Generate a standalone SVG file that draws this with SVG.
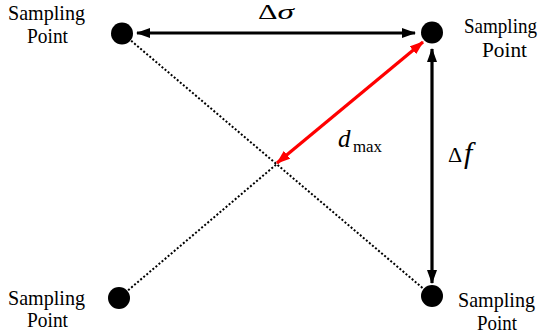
<svg xmlns="http://www.w3.org/2000/svg" width="543" height="334" viewBox="0 0 543 334">
<defs>
<style>
text{font-family:"Liberation Serif","Times New Roman",serif;fill:#000}
.lbl{font-size:21px}
.dot{fill:#000}
.dotted{stroke:#000;stroke-width:2;stroke-dasharray:2 2;fill:none}
.blk{stroke:#000;stroke-width:3.2;fill:none}
.red{stroke:#ff0000;stroke-width:3.2;fill:none}
</style>
<marker id="ab" viewBox="0 0 14 10" refX="13" refY="5" markerUnits="userSpaceOnUse" markerWidth="14" markerHeight="10" orient="auto-start-reverse">
<path d="M0,0 L14,5 L0,10 Z" fill="#000"/>
</marker>
<marker id="ar" viewBox="0 0 14 10" refX="13" refY="5" markerUnits="userSpaceOnUse" markerWidth="14" markerHeight="10" orient="auto-start-reverse">
<path d="M0,0 L14,5 L0,10 Z" fill="#ff0000"/>
</marker>
</defs>
<g id="connectors">
<line class="dotted" x1="122" y1="33" x2="432" y2="296"/>
<line class="dotted" x1="119" y1="298" x2="278" y2="163"/>
<line class="blk" x1="137" y1="33" x2="415" y2="33" marker-start="url(#ab)" marker-end="url(#ab)"/>
<line class="blk" x1="432" y1="49" x2="432" y2="283" marker-start="url(#ab)" marker-end="url(#ab)"/>
<line class="red" x1="423" y1="42" x2="277" y2="163" marker-start="url(#ar)" marker-end="url(#ar)"/>
</g>
<g id="node-tl">
<circle class="dot" cx="122" cy="33.5" r="11"/>
<text class="lbl" x="8" y="20" textLength="77" lengthAdjust="spacingAndGlyphs">Sampling</text>
<text class="lbl" x="27" y="43" textLength="41" lengthAdjust="spacingAndGlyphs">Point</text>
</g>
<g id="node-tr">
<circle class="dot" cx="432" cy="32.5" r="11"/>
<text class="lbl" x="464" y="33" textLength="73" lengthAdjust="spacingAndGlyphs">Sampling</text>
<text class="lbl" x="482" y="57" textLength="45" lengthAdjust="spacingAndGlyphs">Point</text>
</g>
<g id="node-bl">
<circle class="dot" cx="119" cy="298" r="11"/>
<text class="lbl" x="8" y="305" textLength="77" lengthAdjust="spacingAndGlyphs">Sampling</text>
<text class="lbl" x="27" y="327" textLength="41" lengthAdjust="spacingAndGlyphs">Point</text>
</g>
<g id="node-br">
<circle class="dot" cx="432" cy="296" r="11"/>
<text class="lbl" x="458" y="307" textLength="77" lengthAdjust="spacingAndGlyphs">Sampling</text>
<text class="lbl" x="477" y="330" textLength="40" lengthAdjust="spacingAndGlyphs">Point</text>
</g>
<g id="labels">
<text x="258" y="19" font-size="20" textLength="36" lengthAdjust="spacingAndGlyphs">Δ<tspan font-style="italic" font-size="22">σ</tspan></text>
<text x="338" y="147" font-size="25" font-style="italic">d</text>
<text x="353" y="152" font-size="17" textLength="29" lengthAdjust="spacingAndGlyphs">max</text>
<text x="448" y="162" font-size="22">Δ</text>
<text x="464" y="163" font-size="30" font-style="italic">f</text>
</g>
</svg>
